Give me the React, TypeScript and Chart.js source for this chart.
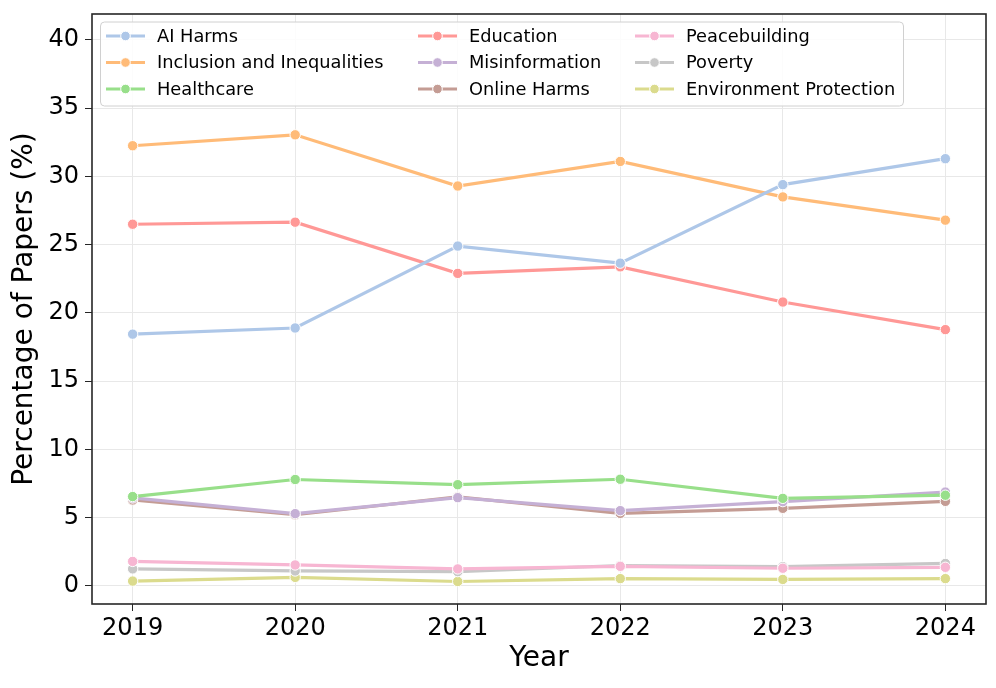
import React, { useEffect, useRef } from "react";
import { Chart, registerables } from "chart.js";

Chart.register(...registerables);

const years = [2019, 2020, 2021, 2022, 2023, 2024];
const seriesNames = [
  "AI Harms",
  "Inclusion and Inequalities",
  "Healthcare",
  "Education",
  "Misinformation",
  "Online Harms",
  "Peacebuilding",
  "Poverty",
  "Environment Protection",
];
const aiHarms = [18.45, 18.9, 24.9, 23.65, 29.4, 31.3];
const inclusion = [32.25, 33.05, 29.3, 31.1, 28.5, 26.8];
const healthcare = [6.55, 7.8, 7.42, 7.82, 6.42, 6.65];
const education = [26.5, 26.65, 22.9, 23.38, 20.8, 18.78];
const misinformation = [6.45, 5.3, 6.47, 5.52, 6.18, 6.88];
const onlineHarms = [6.3, 5.22, 6.52, 5.32, 5.69, 6.2];
const peacebuilding = [1.8, 1.54, 1.25, 1.44, 1.3, 1.37];
const poverty = [1.25, 1.1, 1.05, 1.5, 1.42, 1.65];
const environment = [0.36, 0.63, 0.33, 0.54, 0.48, 0.54];
const seriesValues = [aiHarms, inclusion, healthcare, education, misinformation, onlineHarms, peacebuilding, poverty, environment];
const colors = ["#aec7e8", "#ffbb78", "#98df8a", "#ff9896", "#c5b0d5", "#c49c94", "#f7b6d2", "#c7c7c7", "#dbdb8d"];
const yTicks = [0, 5, 10, 15, 20, 25, 30, 35, 40];

const FONT = "'DejaVu Sans', sans-serif";

const framePlugin = {
  id: "frame",
  afterDraw(chart: any) {
    const { ctx, chartArea: a } = chart;
    ctx.save();
    ctx.strokeStyle = "#262626";
    ctx.lineWidth = 1.6;
    ctx.strokeRect(a.left, a.top, a.right - a.left, a.bottom - a.top);
    ctx.restore();
  },
};

const legendPlugin = {
  id: "customLegend",
  afterDraw(chart: any) {
    const ctx = chart.ctx;
    ctx.save();
    const bx = 100.5, by = 22, bw = 803, bh = 84, r = 4;
    ctx.beginPath();
    ctx.moveTo(bx + r, by);
    ctx.arcTo(bx + bw, by, bx + bw, by + bh, r);
    ctx.arcTo(bx + bw, by + bh, bx, by + bh, r);
    ctx.arcTo(bx, by + bh, bx, by, r);
    ctx.arcTo(bx, by, bx + bw, by, r);
    ctx.closePath();
    ctx.fillStyle = "rgba(255,255,255,0.85)";
    ctx.fill();
    ctx.strokeStyle = "#d0d0d0";
    ctx.lineWidth = 1;
    ctx.stroke();
    const colX = [106, 418, 635];
    const rowY = [36, 62.5, 89];
    chart.data.datasets.forEach((ds: any, i: number) => {
      const x = colX[Math.floor(i / 3)];
      const y = rowY[i % 3];
      ctx.strokeStyle = ds.borderColor;
      ctx.lineWidth = 3.2;
      ctx.beginPath();
      ctx.moveTo(x, y);
      ctx.lineTo(x + 39, y);
      ctx.stroke();
      ctx.beginPath();
      ctx.arc(x + 19.5, y, 4.8, 0, Math.PI * 2);
      ctx.fillStyle = ds.borderColor;
      ctx.fill();
      ctx.strokeStyle = "#ffffff";
      ctx.lineWidth = 1;
      ctx.stroke();
      ctx.fillStyle = "#000000";
      ctx.font = `17.8px ${FONT}`;
      ctx.textBaseline = "middle";
      ctx.textAlign = "left";
      ctx.fillText(ds.label, x + 51, y + 1);
    });
    ctx.restore();
  },
};

export default function App() {
  const ref = useRef<HTMLCanvasElement | null>(null);
  useEffect(() => {
    if (!ref.current) return;
    const datasets = seriesNames.map((name, i) => ({
      label: name,
      data: years.map((yr, j) => ({ x: yr, y: seriesValues[i][j] })),
      borderColor: colors[i],
      backgroundColor: colors[i],
      pointBackgroundColor: colors[i],
      pointBorderColor: "#ffffff",
      pointBorderWidth: 1,
      pointRadius: 5.2,
      borderWidth: 3.2,
      tension: 0,
      order: i,
    }));
    const chart = new Chart(ref.current, {
      type: "line",
      data: { datasets },
      plugins: [framePlugin, legendPlugin],
      options: {
        animation: false,
        responsive: false,
        devicePixelRatio: 1,
        layout: { padding: { left: 0, right: 10, top: 14, bottom: 0 } },
        plugins: { legend: { display: false }, tooltip: { enabled: false } },
        scales: {
          x: {
            type: "linear",
            min: 2018.75,
            max: 2024.25,
            afterBuildTicks: (s: any) => {
              s.ticks = years.map((v) => ({ value: v }));
            },
            afterFit: (s: any) => {
              s.height = 84;
              s.paddingLeft = 0;
              s.paddingRight = 0;
            },
            grid: { color: "#e8e8e8", lineWidth: 1, tickColor: "#262626", tickLength: 7, drawTicks: true },
            border: { display: false },
            ticks: {
              color: "#000",
              font: { family: FONT, size: 24 },
              padding: 3,
              maxRotation: 0,
              callback: (v: any) => String(v),
            },
            title: {
              display: true,
              text: "Year",
              color: "#000",
              font: { family: FONT, size: 28 },
              padding: { top: 0, bottom: 12 },
            },
          },
          y: {
            type: "linear",
            min: -1.32,
            max: 41.9,
            afterBuildTicks: (s: any) => {
              s.ticks = yTicks.map((v) => ({ value: v }));
            },
            afterFit: (s: any) => {
              s.width = 92;
              s.paddingTop = 0;
              s.paddingBottom = 0;
            },
            grid: { color: "#e8e8e8", lineWidth: 1, tickColor: "#262626", tickLength: 7, drawTicks: true },
            border: { display: false },
            ticks: {
              color: "#000",
              font: { family: FONT, size: 24 },
              padding: 6,
              callback: (v: any) => String(v),
            },
            title: {
              display: true,
              text: "Percentage of Papers (%)",
              color: "#000",
              font: { family: FONT, size: 28 },
              padding: { top: 8, bottom: 0 },
            },
          },
        },
      },
    } as any);
    return () => chart.destroy();
  }, []);
  return (
    <div style={{ position: "fixed", left: 0, top: 0, width: 996, height: 688, background: "#fff" }}>
      <canvas ref={ref} width={996} height={688} style={{ display: "block" }} />
    </div>
  );
}
